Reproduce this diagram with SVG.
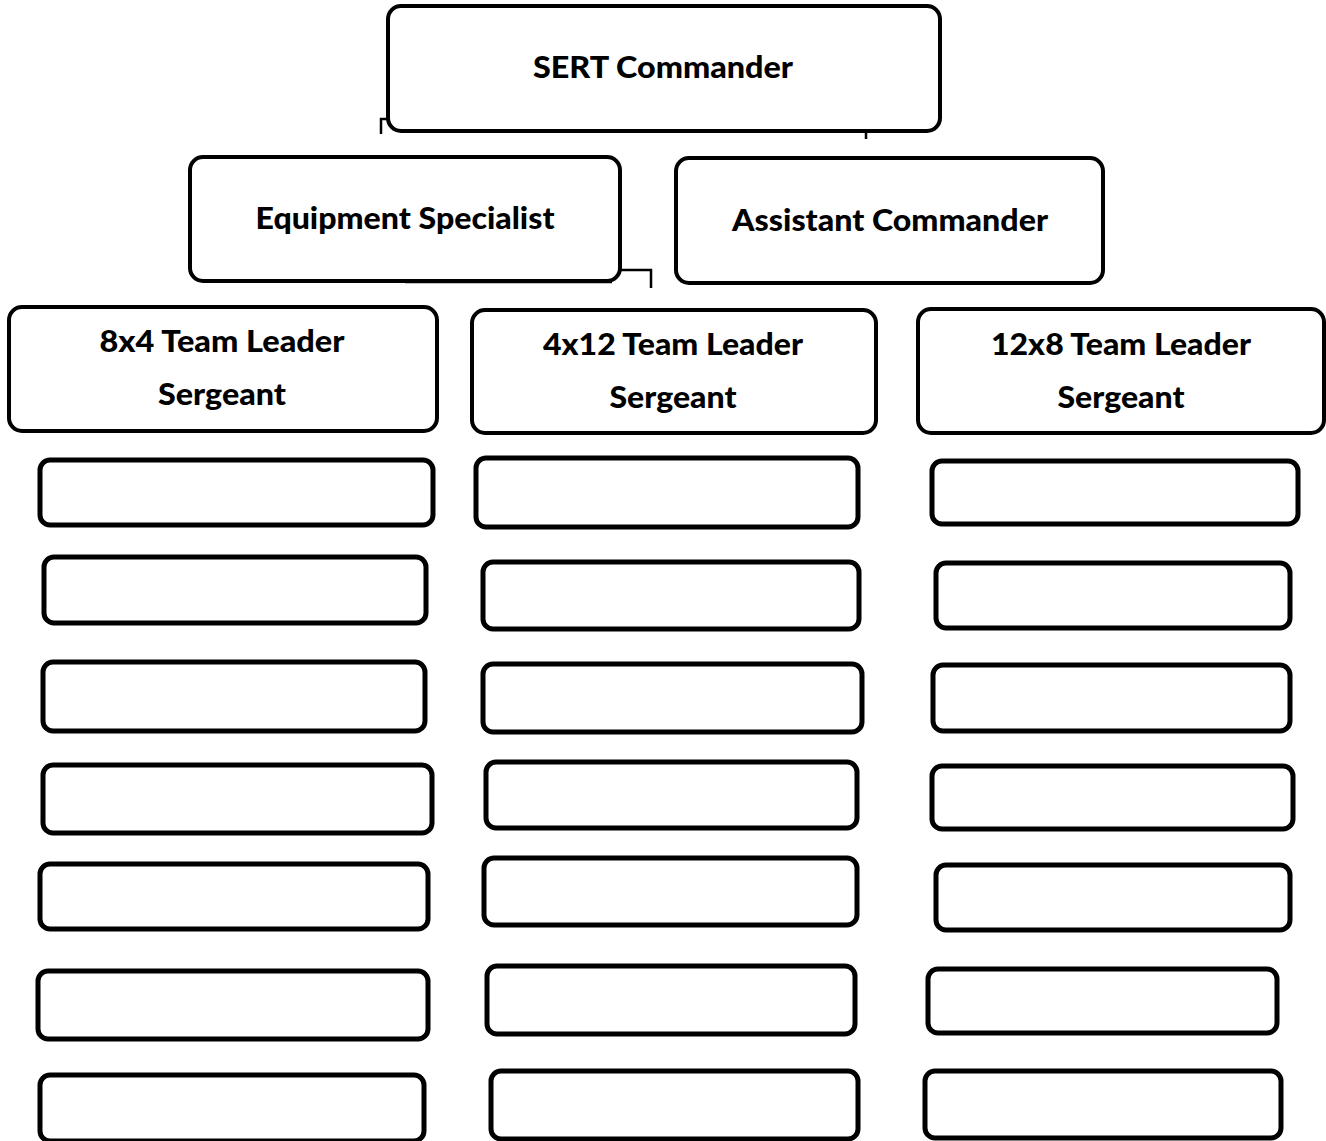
<svg xmlns="http://www.w3.org/2000/svg" width="1326" height="1141" viewBox="0 0 1326 1141">
<style>
.big{fill:#fff;stroke:#000;stroke-width:4}
.sm{fill:#fff;stroke:#000;stroke-width:5}
.t{font-family:Lato,"Open Sans","Liberation Sans",sans-serif;font-weight:900;font-size:31px;fill:#000;text-anchor:middle}
.c{fill:none;stroke:#000;stroke-width:2.5}
</style>
<rect width="1326" height="1141" fill="#fff"/>
<g id="connectors">
<path class="c" d="M381,134 V119 H389"/>
<path class="c" d="M866,129 V139"/>
<path class="c" d="M618,270 H651 V288"/>
<path class="c" d="M405,282 H612"/>
</g>
<g id="sert-commander"><rect class="big" x="388" y="6" width="552" height="125" rx="13"/><text class="t" x="663" y="78" textLength="260" lengthAdjust="spacingAndGlyphs">SERT Commander</text></g>
<g id="equipment-specialist"><rect class="big" x="190" y="157" width="430" height="124" rx="13"/><text class="t" x="405" y="229" textLength="299" lengthAdjust="spacingAndGlyphs">Equipment Specialist</text></g>
<g id="assistant-commander"><rect class="big" x="676" y="158" width="427" height="125" rx="13"/><text class="t" x="890" y="231" textLength="316" lengthAdjust="spacingAndGlyphs">Assistant Commander</text></g>
<g id="tl-8x4"><rect class="big" x="9" y="307" width="428" height="124" rx="13"/><text class="t" x="222" y="352" textLength="245" lengthAdjust="spacingAndGlyphs">8x4 Team Leader</text><text class="t" x="222" y="405" textLength="128" lengthAdjust="spacingAndGlyphs">Sergeant</text></g>
<g id="tl-4x12"><rect class="big" x="472" y="310" width="404" height="123" rx="13"/><text class="t" x="673" y="355" textLength="260" lengthAdjust="spacingAndGlyphs">4x12 Team Leader</text><text class="t" x="673" y="408" textLength="127" lengthAdjust="spacingAndGlyphs">Sergeant</text></g>
<g id="tl-12x8"><rect class="big" x="918" y="309" width="406" height="124" rx="13"/><text class="t" x="1121" y="355" textLength="260" lengthAdjust="spacingAndGlyphs">12x8 Team Leader</text><text class="t" x="1121" y="408" textLength="127" lengthAdjust="spacingAndGlyphs">Sergeant</text></g>
<g id="c1r1"><rect class="sm" x="40" y="460" width="393" height="65" rx="10"/></g>
<g id="c1r2"><rect class="sm" x="44" y="557" width="382" height="66" rx="10"/></g>
<g id="c1r3"><rect class="sm" x="43" y="662" width="382" height="69" rx="10"/></g>
<g id="c1r4"><rect class="sm" x="43" y="765" width="389" height="68" rx="10"/></g>
<g id="c1r5"><rect class="sm" x="40" y="864" width="388" height="65" rx="10"/></g>
<g id="c1r6"><rect class="sm" x="38" y="971" width="390" height="68" rx="10"/></g>
<g id="c1r7"><rect class="sm" x="40" y="1075" width="384" height="66" rx="10"/></g>
<g id="c2r1"><rect class="sm" x="476" y="458" width="382" height="69" rx="10"/></g>
<g id="c2r2"><rect class="sm" x="483" y="562" width="376" height="67" rx="10"/></g>
<g id="c2r3"><rect class="sm" x="483" y="664" width="379" height="68" rx="10"/></g>
<g id="c2r4"><rect class="sm" x="486" y="762" width="371" height="66" rx="10"/></g>
<g id="c2r5"><rect class="sm" x="484" y="858" width="373" height="67" rx="10"/></g>
<g id="c2r6"><rect class="sm" x="487" y="966" width="368" height="68" rx="10"/></g>
<g id="c2r7"><rect class="sm" x="491" y="1071" width="367" height="68" rx="10"/></g>
<g id="c3r1"><rect class="sm" x="932" y="461" width="366" height="63" rx="10"/></g>
<g id="c3r2"><rect class="sm" x="936" y="563" width="354" height="65" rx="10"/></g>
<g id="c3r3"><rect class="sm" x="933" y="665" width="357" height="66" rx="10"/></g>
<g id="c3r4"><rect class="sm" x="932" y="766" width="361" height="63" rx="10"/></g>
<g id="c3r5"><rect class="sm" x="936" y="865" width="354" height="65" rx="10"/></g>
<g id="c3r6"><rect class="sm" x="928" y="969" width="349" height="64" rx="10"/></g>
<g id="c3r7"><rect class="sm" x="925" y="1071" width="356" height="67" rx="10"/></g>
</svg>
